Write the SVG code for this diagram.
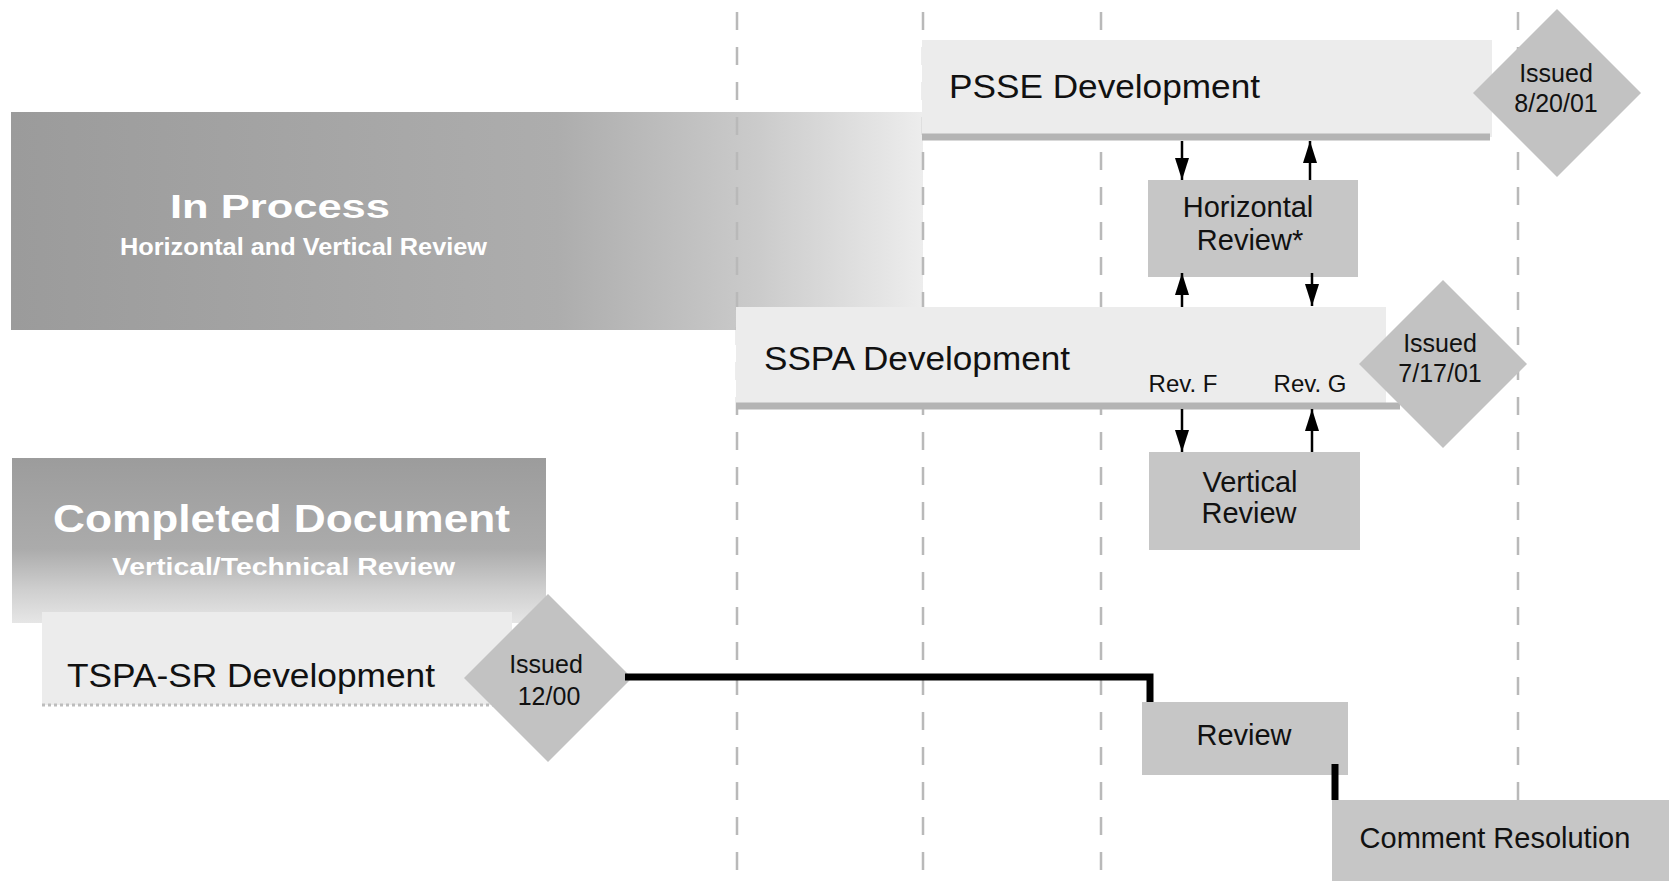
<svg xmlns="http://www.w3.org/2000/svg" width="1669" height="884" viewBox="0 0 1669 884">
<style>
text{font-family:"Liberation Sans",Arial,sans-serif;fill:#111}
.lbl{font-size:34px}
.box{fill:#c6c6c6}
.dia{fill:#c2c2c2}
.band{fill:#ececec}
.stripe{stroke:#b4b4b4;stroke-width:7;fill:none}
.grid{stroke:#b9b9b9;stroke-width:2.5;stroke-dasharray:18 17;fill:none}
.big{font-weight:bold;fill:#fff}
.nt{font-size:29px;text-anchor:middle}
.dt{font-size:25px;text-anchor:middle}
.rev{font-size:24px;text-anchor:middle}
.arr{stroke:#000;stroke-width:2.5;fill:none;marker-end:url(#ah)}
.thick{stroke:#000;stroke-width:7;fill:none}
</style>
<defs>
<marker id="ah" viewBox="0 0 22 14" refX="22" refY="7" markerWidth="22" markerHeight="14" markerUnits="userSpaceOnUse" orient="auto">
<path d="M0,0 L22,7 L0,14 z" fill="#000"/>
</marker>
<linearGradient id="gIP" x1="0" y1="0" x2="1" y2="0">
<stop offset="0" stop-color="#9b9b9b"/>
<stop offset="0.6" stop-color="#adadad"/>
<stop offset="0.82" stop-color="#cbcbcb"/>
<stop offset="1" stop-color="#ededed"/>
</linearGradient>
<linearGradient id="gCD" x1="0" y1="0" x2="0" y2="1">
<stop offset="0" stop-color="#9c9c9c"/>
<stop offset="0.55" stop-color="#ababab"/>
<stop offset="0.8" stop-color="#cfcfcf"/>
<stop offset="1" stop-color="#e6e6e6"/>
</linearGradient>
</defs>
<rect width="1669" height="884" fill="#fff"/>

<g id="background-panels">
<rect x="11" y="112" width="912" height="218" fill="url(#gIP)"/>
<rect x="12" y="458" width="534" height="165" fill="url(#gCD)"/>
</g>

<g id="grid">
<line class="grid" x1="737" y1="12" x2="737" y2="884"/>
<line class="grid" x1="923" y1="12" x2="923" y2="884"/>
<line class="grid" x1="1101" y1="12" x2="1101" y2="884"/>
<line class="grid" x1="1518" y1="12" x2="1518" y2="884"/>
</g>

<g id="in-process">
<text class="big" x="170" y="218" font-size="33" textLength="220" lengthAdjust="spacingAndGlyphs">In Process</text>
<text class="big" x="120" y="255" font-size="24" textLength="367" lengthAdjust="spacingAndGlyphs">Horizontal and Vertical Review</text>
</g>

<g id="completed-document">
<text class="big" x="53" y="532" font-size="38" textLength="457" lengthAdjust="spacingAndGlyphs">Completed Document</text>
<text class="big" x="112" y="575" font-size="24" textLength="343" lengthAdjust="spacingAndGlyphs">Vertical/Technical Review</text>
</g>

<g id="psse-development">
<rect class="band" x="922" y="40" width="570" height="97"/>
<line class="stripe" x1="922" y1="137" x2="1490" y2="137"/>
<polygon class="dia" points="1557,9 1641,93 1557,177 1473,93"/>
<text class="lbl" x="949" y="98" textLength="311" lengthAdjust="spacingAndGlyphs">PSSE Development</text>
<text class="dt" x="1556" y="82">Issued</text>
<text class="dt" x="1556" y="112">8/20/01</text>
</g>

<g id="sspa-development">
<rect class="band" x="736" y="307" width="650" height="99"/>
<line class="stripe" x1="736" y1="406" x2="1400" y2="406"/>
<polygon class="dia" points="1443,280 1527,364 1443,448 1359,364"/>
<text class="lbl" x="764" y="370" textLength="306" lengthAdjust="spacingAndGlyphs">SSPA Development</text>
<text class="dt" x="1440" y="352">Issued</text>
<text class="dt" x="1440" y="382">7/17/01</text>
<text class="rev" x="1183" y="392">Rev. F</text>
<text class="rev" x="1310" y="392">Rev. G</text>
</g>

<g id="tspa-sr-development">
<rect class="band" x="42" y="612" width="470" height="93"/>
<line x1="42" y1="705" x2="520" y2="705" stroke="#bdbdbd" stroke-width="3" stroke-dasharray="3 3"/>
<polygon class="dia" points="548,594 632,678 548,762 464,678"/>
<text class="lbl" x="67" y="687" textLength="368" lengthAdjust="spacingAndGlyphs">TSPA-SR Development</text>
<text class="dt" x="546" y="673">Issued</text>
<text class="dt" x="549" y="705">12/00</text>
</g>

<g id="horizontal-review">
<rect class="box" x="1148" y="180" width="210" height="97"/>
<text class="nt" x="1248" y="217">Horizontal</text>
<text class="nt" x="1250" y="250">Review*</text>
</g>

<g id="vertical-review">
<rect class="box" x="1149" y="452" width="211" height="98"/>
<text class="nt" x="1250" y="492">Vertical</text>
<text class="nt" x="1249" y="523">Review</text>
</g>

<g id="review">
<rect class="box" x="1142" y="702" width="206" height="73"/>
<text class="nt" x="1244" y="745">Review</text>
</g>

<g id="comment-resolution">
<rect class="box" x="1332" y="800" width="337" height="81"/>
<text class="nt" x="1495" y="848">Comment Resolution</text>
</g>

<g id="connectors">
<line class="arr" x1="1182" y1="141" x2="1182" y2="180"/>
<line class="arr" x1="1310" y1="180" x2="1310" y2="141"/>
<line class="arr" x1="1182" y1="307" x2="1182" y2="273"/>
<line class="arr" x1="1312" y1="273" x2="1312" y2="306"/>
<line class="arr" x1="1182" y1="409" x2="1182" y2="452"/>
<line class="arr" x1="1312" y1="452" x2="1312" y2="409"/>
<polyline class="thick" points="625,677 1150,677 1150,702"/>
<line class="thick" x1="1335" y1="764" x2="1335" y2="800"/>
</g>
</svg>
